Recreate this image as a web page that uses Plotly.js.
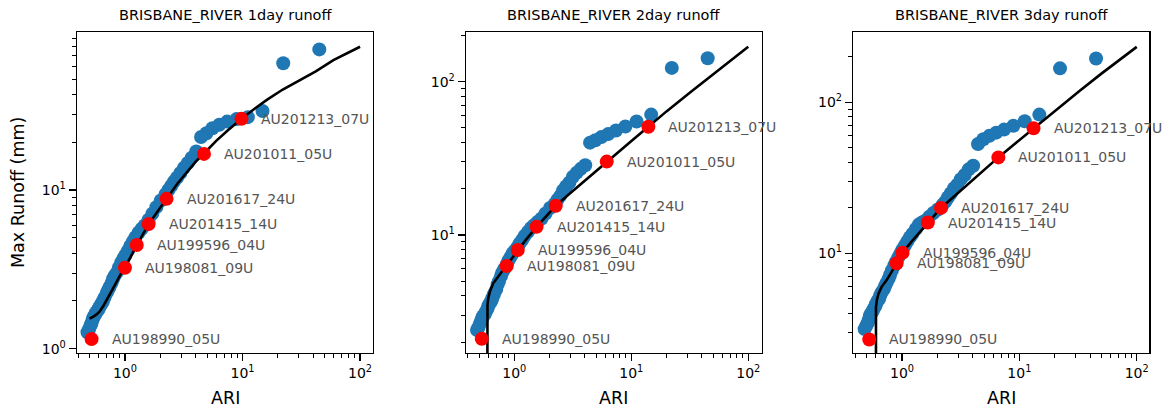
<!DOCTYPE html>
<html>
<head>
<meta charset="utf-8">
<script src="https://cdn.plot.ly/plotly-3.0.1.min.js"></script>
<style>html,body{margin:0;padding:0;background:#fff;}#chart{width:1176px;height:411px;}</style>
</head>
<body>
<div id="chart"></div>
<script>
// ---- data ----
const panelTitles = ['BRISBANE_RIVER 1day runoff', 'BRISBANE_RIVER 2day runoff', 'BRISBANE_RIVER 3day runoff'];
const eventLabels = ['AU198990_05U','AU198081_09U','AU199596_04U','AU201415_14U','AU201617_24U','AU201011_05U','AU201213_07U'];

// ranked observed maxima: ARI (shared by the three panels)
const obsARI = [45, 22.2, 14.8, 11.1, 8.9, 7.4, 6.35, 5.55, 4.93, 4.44,
  4.04, 3.7, 3.42, 3.17, 2.96, 2.78, 2.61, 2.47, 2.34, 2.22,
  2.02, 1.85, 1.71, 1.59, 1.48, 1.39, 1.31, 1.23, 1.17, 1.11,
  1.06, 1.01, 0.97, 0.93, 0.89, 0.86, 0.82, 0.79, 0.77, 0.74,
  0.72, 0.70, 0.67, 0.65, 0.64, 0.62, 0.60, 0.59, 0.57, 0.56,
  0.54, 0.53, 0.52, 0.51, 0.495, 0.48];

const obs1day = [77, 63, 31.5, 28.8, 28.0, 27.0, 25.8, 24.5, 22.8, 21.6,
  17.5, 16.0, 14.8, 13.8, 12.8, 12.0, 11.3, 10.6, 10.0, 9.4,
  8.6, 7.8, 7.1, 6.5, 6.0, 5.7, 5.4, 5.05, 4.75, 4.45,
  4.15, 3.9, 3.7, 3.5, 3.25, 3.05, 2.9, 2.75, 2.6, 2.45,
  2.35, 2.25, 2.1, 2.0, 1.95, 1.88, 1.8, 1.75, 1.7, 1.65,
  1.58, 1.52, 1.45, 1.4, 1.33, 1.27];

const obs2day = [142, 123, 61, 55, 51, 48, 45.5, 43.5, 41.5, 40,
  28.5, 27, 25.5, 24, 22, 20.8, 19.5, 18, 17, 16,
  15, 13.8, 12.8, 12.2, 11.6, 11.1, 10.5, 9.9, 9.3, 8.8,
  8.3, 7.9, 7.6, 7.2, 6.8, 6.4, 6.0, 5.7, 5.4, 5.0,
  4.75, 4.4, 4.1, 3.9, 3.75, 3.6, 3.45, 3.3, 3.15, 3.05,
  2.95, 2.85, 2.75, 2.65, 2.5, 2.4];

const obs3day = [195, 168, 83, 75, 70, 66, 63, 60, 57, 53,
  38, 36, 33, 31, 28.5, 27, 25, 23.5, 22, 21,
  19.5, 18.5, 17.5, 16.5, 16, 15.5, 14.5, 13.5, 12.8, 12,
  11.3, 10.6, 10.0, 9.4, 8.8, 8.3, 7.7, 7.2, 6.8, 6.4,
  6.1, 5.8, 5.5, 5.25, 5.0, 4.85, 4.6, 4.45, 4.25, 4.1,
  3.95, 3.8, 3.6, 3.45, 3.3, 3.15];

// labelled events
const ev1ARI = [0.52, 1.0, 1.26, 1.59, 2.26, 4.7, 9.8];
const ev1Run = [1.15, 3.24, 4.5, 6.1, 8.8, 16.9, 28.1];
const ev2ARI = [0.527, 0.86, 1.07, 1.55, 2.26, 6.17, 14.0];
const ev2Run = [2.1, 6.28, 7.98, 11.3, 15.5, 30.1, 50.8];
const ev3ARI = [0.526, 0.90, 1.01, 1.66, 2.15, 6.62, 13.2];
const ev3Run = [2.69, 8.6, 10.1, 16.0, 20.0, 43.2, 67.3];

// fitted frequency curves
const fit1ARI = [0.50, 0.53, 0.57, 0.61, 0.66, 0.72, 0.82, 0.92, 1.0, 1.13, 1.26, 1.42, 1.59, 1.9, 2.26, 2.8, 3.35, 4.0, 4.7, 6.0, 7.6, 9.8, 13, 16.1, 22, 30.9, 42, 59.3, 80, 100];
const fit1Run = [1.55, 1.58, 1.64, 1.72, 1.88, 2.1, 2.52, 2.95, 3.24, 3.85, 4.5, 5.25, 6.1, 7.4, 8.8, 11.0, 13.0, 15.1, 17.0, 20.5, 24.0, 28.1, 33, 37, 43, 49.3, 56, 65.9, 74, 80];
const fit2ARI = [0.588, 0.588, 0.59, 0.60, 0.62, 0.66, 0.72, 0.80, 0.86, 0.95, 1.07, 1.25, 1.55, 1.9, 2.26, 3.0, 4.0, 5.0, 6.17, 8.0, 10.5, 14, 20, 31.8, 50, 70, 100];
const fit2Run = [1.0, 3.2, 3.5, 3.9, 4.3, 4.84, 5.3, 5.85, 6.28, 7.0, 7.98, 9.25, 11.3, 13.4, 15.5, 18.7, 22.6, 26.2, 30.1, 35.6, 42.3, 50.8, 64, 85, 112, 137, 169];
const fit3ARI = [0.60, 0.60, 0.61, 0.63, 0.67, 0.74, 0.82, 0.90, 1.01, 1.2, 1.4, 1.66, 2.15, 3.0, 4.0, 5.0, 6.62, 9.0, 13.2, 20, 32.9, 50, 70, 100];
const fit3Run = [1.5, 4.4, 4.9, 5.4, 6.0, 6.65, 7.6, 8.6, 10.1, 11.9, 13.7, 16.0, 20.0, 25.1, 30.6, 35.6, 43.2, 52.6, 67.3, 88, 120, 155, 188, 233];

const xTickVals = [1, 10, 100];
const xTickText = ['10<sup>0</sup>', '10<sup>1</sup>', '10<sup>2</sup>'];
const y1TickVals = [1, 10];
const y1TickText = ['10<sup>0</sup>', '10<sup>1</sup>'];
const y23TickVals = [10, 100];
const y23TickText = ['10<sup>1</sup>', '10<sup>2</sup>'];

// ---- drawing ----
const W = 1176, H = 411;
const boxes = [ {l:77, r:373}, {l:466, r:761.7}, {l:853.3, r:1149.3} ];
const boxTop = 32, boxBot = 353;
const xRanges = [[-0.408, 2.11], [-0.413, 2.115], [-0.415, 2.107]];
const yRanges = [[-0.027, 1.996], [0.230, 2.324], [0.340, 2.466]];

const minorVals = [];
for (let d = -1; d <= 2; d++) for (let k = 2; k <= 9; k++) minorVals.push(k * Math.pow(10, d));

const obs = [obs1day, obs2day, obs3day];
const evX = [ev1ARI, ev2ARI, ev3ARI], evY = [ev1Run, ev2Run, ev3Run];
const fitX = [fit1ARI, fit2ARI, fit3ARI], fitY = [fit1Run, fit2Run, fit3Run];

const traces = [];
const layout = {
  width: W, height: H,
  margin: {l:0, r:0, t:0, b:0},
  paper_bgcolor: '#fff', plot_bgcolor: '#fff',
  showlegend: false,
  font: {family: 'DejaVu Sans', color: '#000'},
  annotations: []
};

function axisBase(domain, range, tv, tt) {
  return {
    type: 'log', domain: domain, range: range,
    showgrid: false, zeroline: false,
    showline: true, linecolor: '#000', linewidth: 1.4, mirror: true,
    ticks: 'outside', ticklen: 7, tickwidth: 1.2, tickcolor: '#000',
    tickmode: 'array', tickvals: tv, ticktext: tt,
    tickfont: {family: 'DejaVu Sans', size: 14, color: '#000'},
    minor: {tickmode: 'array', tickvals: minorVals, ticks: 'outside', ticklen: 4, tickwidth: 1, tickcolor: '#000'},
    automargin: false, fixedrange: true
  };
}

for (let i = 0; i < 3; i++) {
  const xa = 'x' + (i === 0 ? '' : i + 1), ya = 'y' + (i === 0 ? '' : i + 1);
  const xd = [boxes[i].l / W, boxes[i].r / W];
  const yd = [1 - boxBot / H, 1 - boxTop / H];
  layout['xaxis' + (i === 0 ? '' : i + 1)] = Object.assign(axisBase(xd, xRanges[i], xTickVals, xTickText), {anchor: ya});
  layout['yaxis' + (i === 0 ? '' : i + 1)] = Object.assign(
    axisBase(yd, yRanges[i], i === 0 ? y1TickVals : y23TickVals, i === 0 ? y1TickText : y23TickText), {anchor: xa});

  traces.push({type: 'scatter', mode: 'markers', x: obsARI, y: obs[i], xaxis: xa, yaxis: ya,
    marker: {color: '#1f77b4', size: 14, line: {width: 0}}, hoverinfo: 'skip'});
  traces.push({type: 'scatter', mode: 'lines', x: fitX[i], y: fitY[i], xaxis: xa, yaxis: ya,
    line: {color: '#000', width: 2.6}, hoverinfo: 'skip'});
  traces.push({type: 'scatter', mode: 'markers', x: evX[i], y: evY[i], xaxis: xa, yaxis: ya,
    marker: {color: '#ff0000', size: 14, line: {width: 0}}, hoverinfo: 'skip'});

  for (let j = 0; j < eventLabels.length; j++) {
    layout.annotations.push({
      text: eventLabels[j], xref: xa, yref: ya,
      x: Math.log10(evX[i][j]), y: Math.log10(evY[i][j]),
      xanchor: 'left', yanchor: 'middle', xshift: 18, showarrow: false,
      font: {family: 'DejaVu Sans', size: 14, color: '#555'}
    });
  }
  const cx = (boxes[i].l + boxes[i].r) / 2 / W;
  layout.annotations.push({text: panelTitles[i], xref: 'paper', yref: 'paper', x: cx, y: 1 - 15 / H,
    xanchor: 'center', yanchor: 'middle', showarrow: false, font: {family: 'DejaVu Sans', size: 14.5, color: '#000'}});
  layout.annotations.push({text: 'ARI', xref: 'paper', yref: 'paper', x: cx, y: 1 - 398 / H,
    xanchor: 'center', yanchor: 'middle', showarrow: false, font: {family: 'DejaVu Sans', size: 17.5, color: '#000'}});
}
layout.annotations.push({text: 'Max Runoff (mm)', xref: 'paper', yref: 'paper', x: 18 / W, y: 1 - 193 / H,
  xanchor: 'center', yanchor: 'middle', textangle: -90, showarrow: false, font: {family: 'DejaVu Sans', size: 17.5, color: '#000'}});

Plotly.newPlot('chart', traces, layout, {staticPlot: true, displayModeBar: false});
</script>
</body>
</html>
